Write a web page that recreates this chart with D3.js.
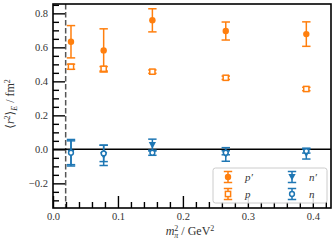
<!DOCTYPE html>
<html>
<head>
<meta charset="utf-8">
<script src="https://cdn.jsdelivr.net/npm/d3@7"></script>
<style>
  body { margin: 0; background: #fff; }
  svg text { font-family: "Liberation Serif", "DejaVu Serif", serif !important; }
</style>
</head>
<body>
<div id="chart"></div>
<script>
// ---- data ----
const mpi2 = [0.0277, 0.078, 0.153, 0.266, 0.390];   // m_pi^2 / GeV^2
const pPrime = [0.633, 0.582, 0.759, 0.696, 0.678];
const pPrimeErr = [0.095, 0.127, 0.068, 0.053, 0.072];
const pVal = [0.486, 0.474, 0.457, 0.421, 0.355];
const pErr = [0.015, 0.013, 0.010, 0.010, 0.010];
const nPrime = [-0.02, -0.035, 0.025, -0.03, -0.025];
const nPrimeErr = [0.07, 0.06, 0.035, 0.04, 0.032];
const nVal = [-0.02, -0.024, -0.02, -0.02, -0.01];
const nErr = [0.078, 0.048, 0.015, 0.012, 0.012];
const physPoint = 0.0195;   // dashed vertical line
const xTicks = [0.0, 0.1, 0.2, 0.3, 0.4];
const yTicks = [-0.2, 0.0, 0.2, 0.4, 0.6, 0.8];

const ORANGE = "#ff7f0e", BLUE = "#1f77b4";

const W = 335, H = 251;
const margin = { top: 4, right: 4, bottom: 43, left: 53 };

const svg = d3.select("#chart").append("svg")
  .attr("width", W).attr("height", H);

const x = d3.scaleLinear().domain([0, 0.428]).range([margin.left, W - margin.right]);
const y = d3.scaleLinear().domain([-0.345, 0.855]).range([H - margin.bottom, margin.top]);

const series = [
  { name: "p′", vals: pPrime, errs: pPrimeErr, color: ORANGE, marker: "circle" },
  { name: "p", vals: pVal, errs: pErr, color: ORANGE, marker: "square" },
  { name: "n′", vals: nPrime, errs: nPrimeErr, color: BLUE, marker: "triangle" },
  { name: "n", vals: nVal, errs: nErr, color: BLUE, marker: "ocircle" }
];

// reference lines
svg.append("line")
  .attr("x1", x(physPoint)).attr("x2", x(physPoint))
  .attr("y1", y.range()[1]).attr("y2", y.range()[0])
  .attr("stroke", "#555").attr("stroke-width", 1.5)
  .attr("stroke-dasharray", "5.5,2.5");

svg.append("line")
  .attr("x1", x.range()[0]).attr("x2", x.range()[1])
  .attr("y1", y(0)).attr("y2", y(0))
  .attr("stroke", "#000").attr("stroke-width", 1.5);

// marker helper
function drawMarker(g, type, cx, cy, color) {
  if (type === "circle") {
    g.append("circle").attr("cx", cx).attr("cy", cy).attr("r", 3.2).attr("fill", color);
  } else if (type === "ocircle") {
    g.append("circle").attr("cx", cx).attr("cy", cy).attr("r", 2.4)
      .attr("fill", "#fff").attr("stroke", color).attr("stroke-width", 1.5);
  } else if (type === "square") {
    g.append("rect").attr("x", cx - 2.6).attr("y", cy - 2.6)
      .attr("width", 5.2).attr("height", 5.2)
      .attr("fill", "#fff").attr("stroke", color).attr("stroke-width", 1.5);
  } else if (type === "triangle") {
    g.append("path")
      .attr("d", `M${cx - 3.6},${cy - 3} L${cx + 3.6},${cy - 3} L${cx},${cy + 3.6} Z`)
      .attr("fill", color);
  }
}

function drawErrorbar(g, cx, y1, y2, color) {
  g.append("line").attr("x1", cx).attr("x2", cx).attr("y1", y1).attr("y2", y2)
    .attr("stroke", color).attr("stroke-width", 1.5);
  [y1, y2].forEach(yy => {
    g.append("line").attr("x1", cx - 4.2).attr("x2", cx + 4.2).attr("y1", yy).attr("y2", yy)
      .attr("stroke", color).attr("stroke-width", 1.5);
  });
}

// data
series.forEach(s => {
  const g = svg.append("g");
  mpi2.forEach((m, i) => {
    drawErrorbar(g, x(m), y(s.vals[i] + s.errs[i]), y(s.vals[i] - s.errs[i]), s.color);
    drawMarker(g, s.marker, x(m), y(s.vals[i]), s.color);
  });
});

// axes (ticks pointing inward)
const xMinor = d3.range(0, 0.43, 0.02).filter(v => Math.abs(v * 10 - Math.round(v * 10)) > 1e-6);
const yMinor = d3.range(-0.3, 0.86, 0.05).filter(v => Math.abs(v * 5 - Math.round(v * 5)) > 1e-6);

const xAxis = svg.append("g").attr("transform", `translate(0,${y.range()[0]})`);
xAxis.call(d3.axisBottom(x).tickValues(xTicks).tickSize(-12).tickFormat(d3.format(".1f")));
xAxis.append("g").call(d3.axisBottom(x).tickValues(xMinor).tickSize(-6).tickFormat(""));

const yAxis = svg.append("g").attr("transform", `translate(${x.range()[0]},0)`);
yAxis.call(d3.axisLeft(y).tickValues(yTicks).tickSize(-12)
  .tickFormat(d => d3.format(".1f")(d).replace("-", "\u2212")));
yAxis.append("g").call(d3.axisLeft(y).tickValues(yMinor).tickSize(-6).tickFormat(""));

svg.selectAll(".domain").remove();
svg.selectAll(".tick line").attr("stroke", "#000").attr("stroke-width", 1.4);
svg.selectAll(".tick text").attr("fill", "#333").style("font-size", "10.5px");
xAxis.selectAll(".tick text").attr("y", 4.5);
yAxis.selectAll(".tick text").attr("x", -5);

// frame
svg.append("rect")
  .attr("x", x.range()[0]).attr("y", y.range()[1])
  .attr("width", x.range()[1] - x.range()[0]).attr("height", y.range()[0] - y.range()[1])
  .attr("fill", "none").attr("stroke", "#000").attr("stroke-width", 1.6);

// axis labels
const xl = svg.append("text").attr("x", 190).attr("y", 235)
  .attr("text-anchor", "middle").style("font-size", "12px").attr("fill", "#333");
xl.append("tspan").attr("font-style", "italic").text("m");
xl.append("tspan").style("font-size", "8px").attr("dy", -4.5).text("2");
xl.append("tspan").style("font-size", "8px").attr("font-style", "italic").attr("dx", -4).attr("dy", 7.5).text("π");
xl.append("tspan").attr("dy", -3).text(" / GeV");
xl.append("tspan").style("font-size", "8px").attr("dy", -4.5).text("2");

const yl = svg.append("text")
  .attr("transform", `translate(14,104) rotate(-90)`)
  .attr("text-anchor", "middle").style("font-size", "12px").attr("fill", "#333");
yl.append("tspan").text("⟨");
yl.append("tspan").attr("font-style", "italic").text("r");
yl.append("tspan").style("font-size", "8px").attr("dy", -4.5).text("2");
yl.append("tspan").attr("dy", 4.5).text("⟩");
yl.append("tspan").style("font-size", "8px").attr("font-style", "italic").attr("dy", 2.5).text("E");
yl.append("tspan").attr("dy", -2.5).text(" / fm");
yl.append("tspan").style("font-size", "8px").attr("dy", -4.5).text("2");

// legend
const lg = svg.append("g");
lg.append("rect").attr("x", 213).attr("y", 168).attr("width", 114).attr("height", 35)
  .attr("rx", 2.5).attr("fill", "#fff").attr("fill-opacity", 0.85)
  .attr("stroke", "#ccc").attr("stroke-width", 1);
const legPos = [[228, 177], [228, 194], [292, 177], [292, 194]];
series.forEach((s, i) => {
  const [lx, ly] = legPos[i];
  drawErrorbar(lg, lx, ly - 5.5, ly + 5.5, s.color);
  drawMarker(lg, s.marker, lx, ly, s.color);
  lg.append("text").attr("x", lx + 17).attr("y", ly + 3.5)
    .style("font-size", "11px").attr("font-style", "italic").attr("fill", "#333").text(s.name);
});
</script>
</body>
</html>
